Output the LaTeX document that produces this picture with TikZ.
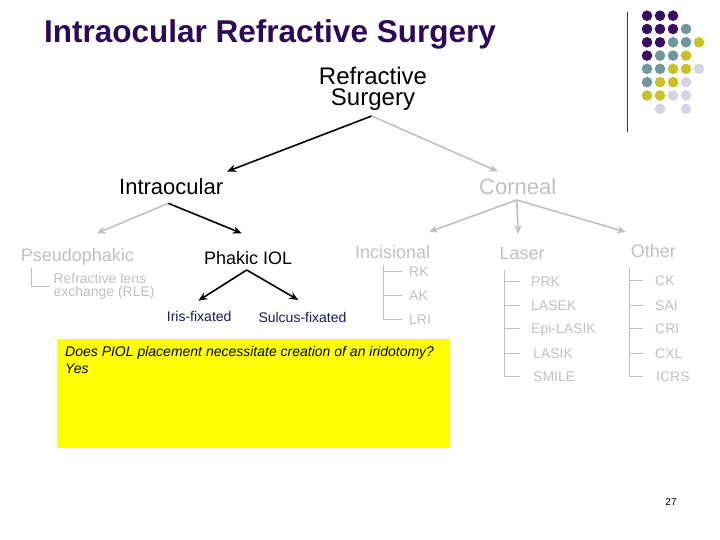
\documentclass[tikz,border=0pt]{standalone}
\usepackage{fontspec}
\setmainfont{Liberation Sans}
\usetikzlibrary{arrows.meta}
\definecolor{titlec}{RGB}{45,10,85}
\definecolor{lgray}{RGB}{192,192,192}
\definecolor{navy}{RGB}{25,25,90}
\definecolor{dP}{RGB}{58,16,96}
\definecolor{dT}{RGB}{110,152,158}
\definecolor{dY}{RGB}{200,194,40}
\definecolor{dL}{RGB}{212,212,228}
\definecolor{boxy}{RGB}{255,255,0}
\definecolor{rulec}{RGB}{60,60,60}
\begin{document}
\begin{tikzpicture}[x=1pt,y=-1pt,
  lbl/.style={inner sep=0pt, anchor=base west},
  big/.style={lbl, font=\fontsize{22}{26}\selectfont},
  mid/.style={lbl, font=\fontsize{18}{21}\selectfont},
  small/.style={lbl, font=\fontsize{14}{14}\selectfont},
  leaf/.style={inner sep=0pt, anchor=base west, text height=10pt, text depth=0pt,
               font=\fontsize{14}{14}\selectfont, text=lgray},
  blk/.style={draw=black, line width=1.6pt, -{Stealth[length=9pt,width=7.5pt]}},
  gry/.style={blk, draw=lgray},
  tree/.style={draw=lgray, line width=1.2pt}]
\path[use as bounding box] (0,0) rectangle (720,540);

% title
\node[lbl, font=\bfseries\fontsize{31.5}{36}\selectfont, text=titlec] (title) at (44,43) {Intraocular Refractive Surgery};

% decoration: rule and dots
\coordinate (ruleTop) at (627.5,12);
\coordinate (ruleBot) at (627.5,132);
\draw[rulec, line width=1pt] (ruleTop) -- (ruleBot);
\foreach \c/\r/\col in {1/1/dP,2/1/dP,3/1/dP,
  1/2/dP,2/2/dP,3/2/dP,4/2/dT,
  1/3/dP,2/3/dP,3/3/dT,4/3/dT,5/3/dY,
  1/4/dP,2/4/dT,3/4/dT,4/4/dY,
  1/5/dT,2/5/dT,3/5/dY,4/5/dY,5/5/dL,
  1/6/dT,2/6/dY,3/6/dY,4/6/dL,
  1/7/dY,2/7/dY,3/7/dL,4/7/dL,
  2/8/dL,4/8/dL}
  \fill[\col] ({647+13*(\c-1)},{15.7+13.3*(\r-1)}) circle[radius=5.3pt];

% main nodes (multi-line nodes: base anchor is the last line)
\node[inner sep=0pt, anchor=base, align=center, font=\fontsize{24}{21.7}\selectfont] (rs) at (373,106) {Refractive\\Surgery};
\node[big] (intra) at (119,195) {Intraocular};
\node[big, text=lgray] (corn) at (479,195) {Corneal};

\node[mid, text=lgray] (pseu) at (20.7,261.7) {Pseudophakic};
\node[mid] (phak) at (204,264.3) {Phakic IOL};
\node[lbl, align=left, text=lgray, font=\fontsize{14}{12.7}\selectfont] (rle) at (53.3,296) {Refractive lens\\exchange (RLE)};
\node[small, text=navy] (iris) at (166.7,321.7) {Iris-fixated};
\node[small, text=navy] (sulc) at (258.3,322) {Sulcus-fixated};

\node[mid, text=lgray] (inc) at (355,258.3) {Incisional};
\node[mid, text=lgray] (las) at (499.3,259.3) {Laser};
\node[mid, text=lgray] (oth) at (630.7,258) {Other};

% leaves (baselines chosen so the branch lines sit on pixel centres)
\node[leaf] (rk) at (409,276.5) {RK};
\node[leaf] (ak) at (409,300.5) {AK};
\node[leaf] (lri) at (409,324.5) {LRI};

\node[leaf] (prk) at (531,286.5) {PRK};
\node[leaf] (lasek) at (531,310.5) {LASEK};
\node[leaf] (epi) at (531,333.5) {Epi-LASIK};
\node[leaf] (lasik) at (533,358.5) {LASIK};
\node[leaf] (smile) at (533,381.5) {SMILE};

\node[leaf] (ck) at (655,285.5) {CK};
\node[leaf] (sai) at (655,310.5) {SAI};
\node[leaf] (cri) at (655,333.5) {CRI};
\node[leaf] (cxl) at (655,358.5) {CXL};
\node[leaf] (icrs) at (656,381.5) {ICRS};

% yellow box
\node[fill=boxy, anchor=north west, inner sep=0pt, minimum width=393pt, minimum height=109pt] (ybox) at (57,339) {};
\node[lbl, align=left, font=\itshape\fontsize{14}{16.6}\selectfont] (q) at (65,373.3) {Does PIOL placement necessitate creation of an iridotomy?\\Yes};

% page number
\node[inner sep=0pt, anchor=base, font=\fontsize{10}{12}\selectfont] (pg) at (671,505) {27};

% arrow coordinates
\coordinate (rsA) at (371.7,116);
\coordinate (intraT) at (227,171.5);
\coordinate (cornT) at (498,171.5);
\coordinate (intraA) at (168.3,203.3);
\coordinate (pseuT) at (96.7,233.3);
\coordinate (phakT) at (241.7,233.3);
\coordinate (cornA) at (516.7,200);
\coordinate (incT) at (429,232);
\coordinate (lasT) at (518.3,234);
\coordinate (othT) at (626,232);
\coordinate (phA) at (246.7,270);
\coordinate (irisT) at (198.3,300.7);
\coordinate (sulT) at (298.3,300);

\draw[blk] (rsA) -- (intraT);
\draw[gry] (rsA) -- (cornT);
\draw[gry] (intraA) -- (pseuT);
\draw[blk] (intraA) -- (phakT);
\draw[gry] (cornA) -- (incT);
\draw[gry] (cornA) -- (lasT);
\draw[gry] (cornA) -- (othT);
\draw[blk] (phA) -- (irisT);
\draw[blk] (phA) -- (sulT);

% trees
\coordinate (rleV) at (31.5,268);
\coordinate (rleE) at (50,286.5);
\draw[tree] (rleV) |- (rleE);

\coordinate (incV) at (383.5,265);
\draw[tree] (incV) |- ([xshift=-7pt]lri.west);
\foreach \n in {rk,ak} \draw[tree] (incV |- \n.west) -- ([xshift=-7pt]\n.west);

\coordinate (lasV) at (504.5,270);
\draw[tree] (lasV) |- ([xshift=-13pt]smile.west);
\foreach \n in {prk,lasek,epi} \draw[tree] (lasV |- \n.west) -- ([xshift=-11pt]\n.west);
\draw[tree] (lasV |- lasik.west) -- ([xshift=-13pt]lasik.west);

\coordinate (othV) at (629.5,268);
\draw[tree] (othV) |- ([xshift=-13pt]icrs.west);
\foreach \n in {ck,sai,cri,cxl} \draw[tree] (othV |- \n.west) -- ([xshift=-12pt]\n.west);
\end{tikzpicture}
\end{document}
